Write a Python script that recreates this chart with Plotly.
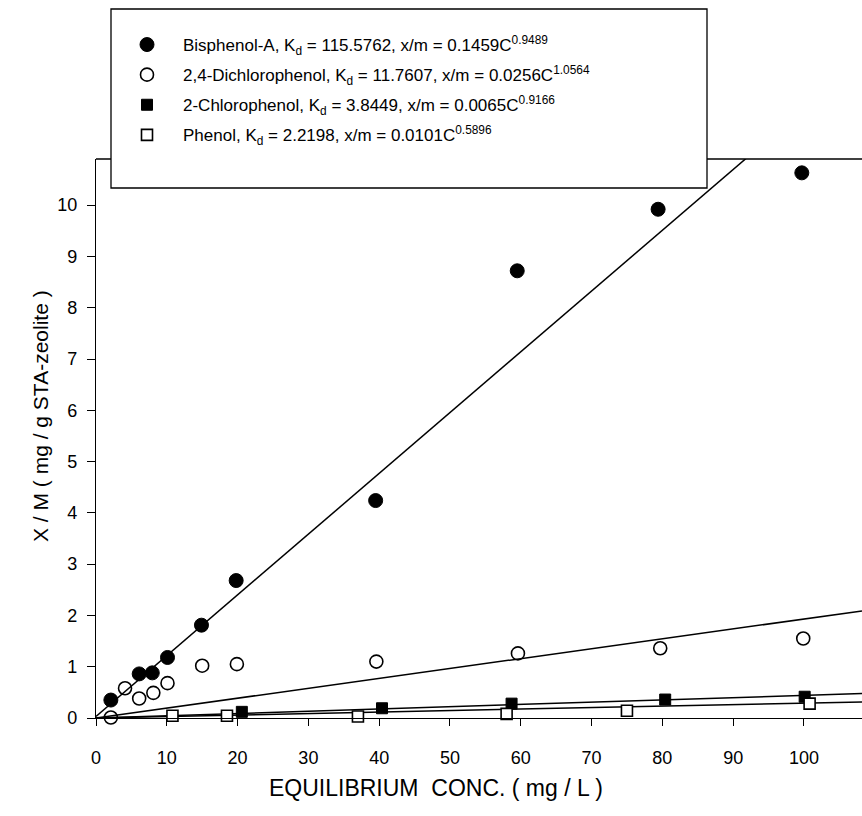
import plotly.graph_objects as go

# ---- data ----
bpa_x = [2.1, 6.1, 7.95, 10.1, 14.9, 19.8, 39.5, 59.5, 79.4, 99.7]
bpa_y = [0.35, 0.86, 0.88, 1.18, 1.81, 2.68, 4.24, 8.72, 9.92, 10.63]

dcp_x = [2.1, 4.1, 6.1, 8.1, 10.1, 15.0, 19.9, 39.6, 59.6, 79.7, 99.9]
dcp_y = [0.01, 0.58, 0.38, 0.49, 0.68, 1.02, 1.05, 1.10, 1.26, 1.36, 1.55]

cp_x = [20.6, 40.4, 58.7, 80.4, 100.1]
cp_y = [0.12, 0.19, 0.28, 0.36, 0.415]

ph_x = [10.8, 18.5, 37.0, 58.0, 75.0, 100.8]
ph_y = [0.045, 0.045, 0.03, 0.08, 0.14, 0.28]

# fitted straight lines: intercept, slope
fit_intercepts = [0.03, 0.0, 0.0, 0.0]
fit_slopes = [0.1185, 0.0193, 0.0044, 0.0029]

names = [
    "Bisphenol-A, K<sub>d</sub> = 115.5762, x/m = 0.1459C<sup>0.9489</sup>",
    "2,4-Dichlorophenol, K<sub>d</sub> = 11.7607, x/m = 0.0256C<sup>1.0564</sup>",
    "2-Chlorophenol, K<sub>d</sub> = 3.8449, x/m = 0.0065C<sup>0.9166</sup>",
    "Phenol, K<sub>d</sub> = 2.2198, x/m = 0.0101C<sup>0.5896</sup>",
]

x_ticks = [0, 10, 20, 30, 40, 50, 60, 70, 80, 90, 100]
y_ticks = [0, 1, 2, 3, 4, 5, 6, 7, 8, 9, 10]
x_max = 108.2
y_max = 10.9

FONT = "Liberation Sans, Arial, sans-serif"

fig = go.Figure()

# fit lines
for a, b in zip(fit_intercepts, fit_slopes):
    xs = [0, x_max]
    ys = [a + b * v for v in xs]
    fig.add_trace(go.Scatter(x=xs, y=ys, mode="lines",
                             line=dict(color="black", width=1.5),
                             showlegend=False, hoverinfo="skip",
                             cliponaxis=True))

series = [
    (bpa_x, bpa_y, dict(symbol="circle", size=14, color="black",
                        line=dict(color="black", width=1))),
    (dcp_x, dcp_y, dict(symbol="circle-open", size=13, color="black",
                        line=dict(color="black", width=1.6))),
    (cp_x, cp_y, dict(symbol="square", size=11, color="black",
                      line=dict(color="black", width=1))),
    (ph_x, ph_y, dict(symbol="square", size=11, color="white",
                      line=dict(color="black", width=1.6))),
]
for i, ((xs, ys, mk), nm) in enumerate(zip(series, names)):
    fig.add_trace(go.Scatter(x=xs, y=ys, mode="markers", marker=mk, name=nm,
                             legendgroup=f"g{i}", cliponaxis=False))

L, R, T, B = 96, 862, 159, 718
W, H = 862, 816
pw, ph = R - L, B - T

def px(xp):
    return (xp - L) / pw

def py(yp):
    return (B - yp) / ph

fig.update_layout(
    width=W, height=H,
    margin=dict(l=L, r=W - R, t=T, b=H - B),
    paper_bgcolor="white", plot_bgcolor="white",
    font=dict(family=FONT, size=18, color="black"),
    showlegend=True,
    legend=dict(x=px(111), y=py(27), xanchor="left", yanchor="top",
                bgcolor="rgba(0,0,0,0)", borderwidth=0,
                font=dict(family=FONT, size=17, color="black"),
                tracegroupgap=5, itemwidth=62),
    xaxis=dict(range=[0, x_max], tickvals=x_ticks, ticktext=[str(v) for v in x_ticks],
               showgrid=False, zeroline=False, showline=True, linecolor="black",
               linewidth=1.3, ticks="outside", ticklen=7, tickwidth=1.2,
               tickcolor="black", ticklabelstandoff=16,
               tickfont=dict(family=FONT, size=18, color="black")),
    yaxis=dict(range=[0, y_max], tickvals=y_ticks, ticktext=[str(v) for v in y_ticks],
               showgrid=False, zeroline=False, showline=True, linecolor="black",
               linewidth=1.3, ticks="outside", ticklen=8, tickwidth=1.2,
               tickcolor="black", ticklabelstandoff=6,
               tickfont=dict(family=FONT, size=18, color="black")),
    shapes=[
        dict(type="line", xref="paper", yref="paper", x0=0, x1=1, y0=1, y1=1,
             line=dict(color="black", width=1.3), layer="above"),
        dict(type="rect", xref="paper", yref="paper",
             x0=px(111), x1=px(707), y0=py(188), y1=py(9),
             fillcolor="white", line=dict(color="black", width=1.3), layer="above"),
    ],
    annotations=[
        dict(text="EQUILIBRIUM  CONC. ( mg / L )", xref="paper", yref="paper",
             x=px(436), y=py(788), xanchor="center", yanchor="middle",
             showarrow=False, font=dict(family=FONT, size=23, color="black")),
        dict(text="X / M ( mg / g STA-zeolite )", xref="paper", yref="paper",
             x=px(40), y=py(416), xanchor="center", yanchor="middle", textangle=-90,
             showarrow=False, font=dict(family=FONT, size=21, color="black")),
    ],
)

fig.write_html("out.html")
